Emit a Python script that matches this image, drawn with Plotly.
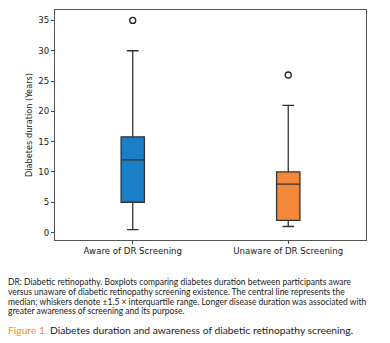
import plotly.graph_objects as go

# Summary statistics for diabetes duration (years)
groups = ["Aware of DR Screening", "Unaware of DR Screening"]
positions = [1, 2]
q1 = [5.0, 2.0]
median = [12.0, 8.0]
q3 = [15.8, 10.0]
lower_whisker = [0.5, 1.0]
upper_whisker = [30.0, 21.0]
outliers = [[35.0], [26.0]]
box_colors = ["#1a7fc6", "#f3883a"]

y_ticks = [0, 5, 10, 15, 20, 25, 30, 35]

caption_lines = [
    "DR: Diabetic retinopathy. Boxplots comparing diabetes duration between participants aware",
    "versus unaware of diabetic retinopathy screening existence. The central line represents the",
    "median; whiskers denote \u00b11.5 \u00d7 interquartile range. Longer disease duration was associated with",
    "greater awareness of screening and its purpose.",
]
figure_label = "Figure 1."
figure_title = "Diabetes duration and awareness of diabetic retinopathy screening."

fig = go.Figure()

for i in range(len(groups)):
    fig.add_trace(go.Box(
        x=[positions[i]],
        q1=[q1[i]], median=[median[i]], q3=[q3[i]],
        lowerfence=[lower_whisker[i]], upperfence=[upper_whisker[i]],
        width=0.15, whiskerwidth=0.5,
        fillcolor=box_colors[i],
        line=dict(color="#333333", width=1.3),
        boxpoints=False, hoverinfo="skip", showlegend=False,
    ))
    fig.add_trace(go.Scatter(
        x=[positions[i]] * len(outliers[i]), y=outliers[i],
        mode="markers",
        marker=dict(symbol="circle-open", size=6, color="#222222",
                    line=dict(width=1.3, color="#222222")),
        hoverinfo="skip", showlegend=False,
    ))

font_plot = "DejaVu Sans"
fig.update_layout(
    width=390, height=343,
    margin=dict(l=55, r=24, t=10, b=103),
    paper_bgcolor="white", plot_bgcolor="white",
    font=dict(family=font_plot, size=9, color="#1a1a1a"),
    xaxis=dict(
        range=[0.5, 2.5], tickvals=positions, ticktext=groups,
        ticks="outside", ticklen=3, tickcolor="#444444",
        showline=True, linecolor="#555555", linewidth=1, mirror=True,
        showgrid=False, zeroline=False,
        tickfont=dict(family=font_plot, size=8.6, color="#1a1a1a"),
    ),
    yaxis=dict(
        range=[-1.225, 36.725], tickvals=y_ticks,
        ticks="outside", ticklen=3, tickcolor="#444444",
        showline=True, linecolor="#555555", linewidth=1, mirror=True,
        showgrid=False, zeroline=False,
        tickfont=dict(family=font_plot, size=8.6, color="#1a1a1a"),
        title=dict(text="Diabetes duration (Years)", standoff=4,
                   font=dict(family=font_plot, size=8.2, color="#1a1a1a")),
    ),
)

# Caption under the chart, positioned in pixel terms relative to the plot area
plot_left, plot_top, plot_w, plot_h = 55, 10, 311, 230


def px_x(px):
    return (px - plot_left) / plot_w


def px_y(py):
    return (plot_top + plot_h - py) / plot_h


caption_y = [282.3, 292.0, 301.5, 311.0]
for text, yy in zip(caption_lines, caption_y):
    fig.add_annotation(
        text=text, xref="paper", yref="paper",
        x=px_x(6), y=px_y(yy), xanchor="left", yanchor="middle",
        showarrow=False,
        font=dict(family="Lato", size=8.5, color="#1a1a1a"),
    )

fig.add_annotation(
    text=f"<span style='color:#f0901e'>{figure_label}</span> {figure_title}",
    xref="paper", yref="paper",
    x=px_x(6), y=px_y(330), xanchor="left", yanchor="middle",
    showarrow=False,
    font=dict(family="Lato", size=10.3, color="#222222"),
)

fig.write_html("out.html")
